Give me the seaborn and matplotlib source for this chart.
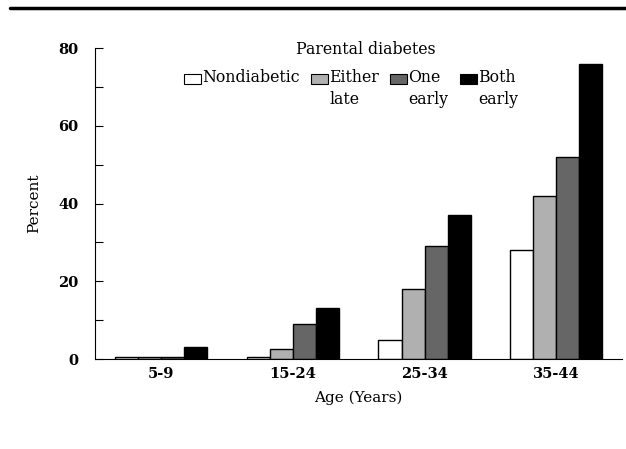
import matplotlib
matplotlib.use("Agg")
import matplotlib.pyplot as plt
import seaborn as sns
import pandas as pd
from matplotlib.lines import Line2D
from matplotlib.patches import Rectangle
from matplotlib.ticker import MultipleLocator

ages = ["5-9", "15-24", "25-34", "35-44"]
groups = ["Nondiabetic", "Either\nlate", "One\nearly", "Both\nearly"]
nondiabetic = [0.5, 0.5, 5, 28]
either_late = [0.5, 2.5, 18, 42]
one_early = [0.5, 9, 29, 52]
both_early = [3, 13, 37, 76]
colors = ["#ffffff", "#b0b0b0", "#666666", "#000000"]

rows = []
for g, vals in zip(groups, [nondiabetic, either_late, one_early, both_early]):
    for a, v in zip(ages, vals):
        rows.append({"Age": a, "Group": g, "Percent": v})
df = pd.DataFrame(rows)

sns.set_theme(style="white")
plt.rcParams['font.family'] = ['DejaVu Serif']
plt.rcParams['text.color'] = 'black'
plt.rcParams['axes.labelcolor'] = 'black'
plt.rcParams['xtick.color'] = 'black'
plt.rcParams['ytick.color'] = 'black'

fig = plt.figure(figsize=(6.26, 4.49), dpi=100)
ax = fig.add_axes([0.152, 0.2004, 0.842, 0.6926])

sns.barplot(data=df, x="Age", y="Percent", hue="Group", order=ages,
            hue_order=groups, palette=colors, width=0.7, ax=ax,
            edgecolor="black", linewidth=1.0, saturation=1)

ax.set_xlim(-0.5, 3.5)
ax.set_ylim(0, 80)
ax.yaxis.set_major_locator(MultipleLocator(20))
ax.yaxis.set_minor_locator(MultipleLocator(10))
ax.tick_params(axis="y", which="both", direction="in", length=6, width=0.8,
               left=True, labelsize=10.5, pad=12, color="black",
               labelcolor="black")
ax.tick_params(axis="x", which="both", bottom=False, labelsize=10.5, pad=0,
               labelcolor="black")
for lbl in ax.get_yticklabels() + ax.get_xticklabels():
    lbl.set_fontweight("bold")
for s in ["top", "right"]:
    ax.spines[s].set_visible(False)
for s in ["left", "bottom"]:
    ax.spines[s].set_color("black")
    ax.spines[s].set_linewidth(0.8)

ax.set_xlabel("Age (Years)", fontsize=11, labelpad=7, color="black")
ax.set_ylabel("Percent", fontsize=11, labelpad=12, color="black")


class RaisedPatchHandler:
    def legend_artist(self, legend, orig_handle, fontsize, handlebox):
        x0, y0 = handlebox.xdescent, handlebox.ydescent
        w, h = handlebox.width, handlebox.height
        shift = 0.67 * fontsize
        p = Rectangle((-x0, -y0 + shift), w, h,
                      facecolor=orig_handle.get_facecolor(),
                      edgecolor="black", linewidth=0.8,
                      transform=handlebox.get_transform())
        handlebox.add_artist(p)
        return p


handles, _ = ax.get_legend_handles_labels()
labels = [g if "\n" in g else g + "\n " for g in groups]
leg = ax.legend(handles, labels, title="      Parental diabetes", ncol=4,
                frameon=False, loc="upper left",
                bbox_to_anchor=(184 / 626, 1 - 41 / 449),
                bbox_transform=fig.transFigure, borderpad=0, borderaxespad=0,
                handlelength=1.08, handleheight=0.64, handletextpad=0.08,
                columnspacing=0.72, fontsize=11.3, title_fontsize=11.3,
                labelcolor="black",
                handler_map={h: RaisedPatchHandler() for h in handles})
leg.get_title().set_color("black")
for t in leg.get_texts():
    t.set_linespacing(1.34)
leg._legend_box.sep = 8

fig.add_artist(Line2D([0.016, 1.0], [0.982, 0.982], color="black",
                      linewidth=2.5, transform=fig.transFigure))

fig.savefig("out.png", dpi=100)
